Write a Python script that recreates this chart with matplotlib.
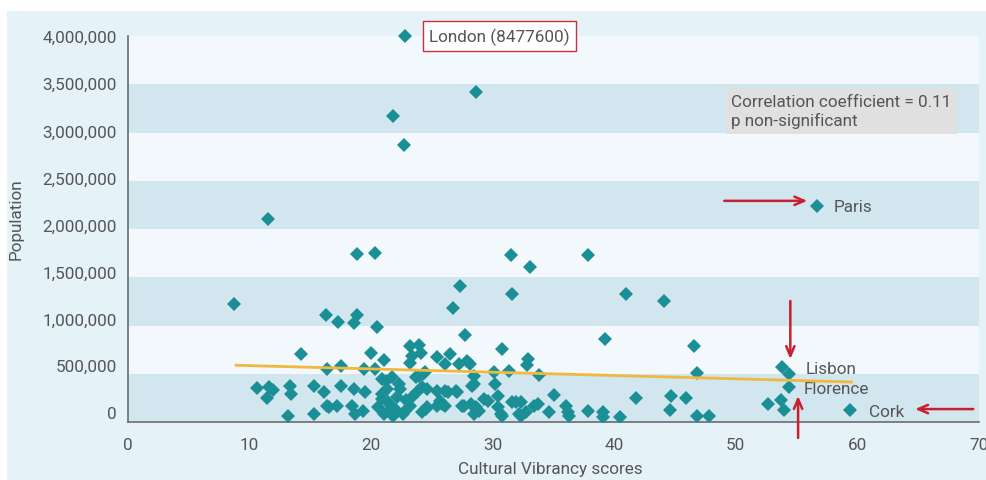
import numpy as np
import matplotlib.pyplot as plt
from matplotlib.patches import Rectangle
from matplotlib.ticker import FuncFormatter
from matplotlib.transforms import ScaledTranslation

plt.rcParams['font.family'] = ['Roboto', 'DejaVu Sans']

# Cultural Vibrancy score / population
score = [28.6, 21.8, 22.7, 11.5, 18.8, 20.3, 31.5, 33.1, 37.8, 8.7,
         27.3, 31.6, 41.0, 44.1, 16.3, 17.3, 18.8, 18.6, 20.5, 26.7,
         27.7, 14.2, 39.2, 46.55, 20.0, 21.05, 23.2, 23.9, 23.4, 24.1,
         23.2, 30.75, 25.4, 26.5, 26.1, 27.2, 28.1, 30.1, 31.35, 32.9,
         32.8, 33.8, 46.8, 16.4, 17.5, 19.4, 20.3, 23.9, 24.4, 24.3,
         28.5, 53.8, 27.9,
         10.6, 11.57, 11.93, 11.43, 13.36, 13.41, 13.2, 15.33, 16.1, 15.33,
         16.4, 17.5, 18.6, 19.5, 16.5, 17.2, 18.4, 18.7, 19.3, 20.9,
         21.7, 21.3, 20.9, 21.6, 21.05, 22.4, 22.6, 23.2, 23.8, 24.2,
         24.6, 26.3, 27.1, 28.3, 30.2, 31.9, 24.6, 25.4, 26.1, 27.5,
         28.2, 28.9, 29.6, 30.4, 30.8, 32.2, 28.5, 35.0, 32.3, 33.7,
         33.4, 32.7, 34.6, 36.0, 36.2, 36.3, 37.8, 39.05, 39.05, 40.5,
         41.8, 44.7, 45.9, 44.6, 46.8, 47.8, 52.65, 53.75, 53.95,
         23.7, 24.2, 23.4, 25.4, 25.7, 24.5, 22.8, 21.5, 20.9, 21.2,
         22.3, 22.15, 20.6, 26.1, 27.0, 28.5, 27.6, 28.6, 29.3, 30.4,
         31.6, 32.3, 30.7, 25.85, 22.0, 21.8, 22.9, 21.4]
population = [3420000, 3170000, 2870000, 2100000, 1740000, 1750000, 1730000, 1610000, 1730000, 1220000,
              1410000, 1330000, 1330000, 1250000, 1110000, 1040000, 1110000, 1030000, 980000, 1180000,
              900000, 700000, 860000, 790000, 720000, 640000, 790000, 800000, 680000, 715000,
              610000, 760000, 670000, 700000, 600000, 600000, 600000, 520000, 530000, 650000,
              590000, 490000, 510000, 550000, 580000, 550000, 550000, 480000, 520000, 500000,
              480000, 567000, 635000,
              349000, 360000, 332000, 246000, 370000, 287000, 65000, 370000, 308000, 83000,
              169000, 376000, 342000, 308000, 152000, 163000, 169000, 83000, 117000, 446000,
              463000, 342000, 238000, 169000, 83000, 342000, 83000, 169000, 308000, 100000,
              342000, 308000, 308000, 376000, 394000, 204000, 152000, 169000, 169000, 169000,
              187000, 117000, 221000, 152000, 65000, 83000, 83000, 280000, 204000, 187000,
              169000, 100000, 100000, 169000, 100000, 65000, 117000, 100000, 49000, 49000,
              246000, 266000, 246000, 124000, 65000, 65000, 187000, 231000, 127000,
              467000, 360000, 256000, 324000, 221000, 135000, 117000, 117000, 290000, 428000,
              394000, 256000, 152000, 324000, 324000, 394000, 169000, 152000, 238000, 273000,
              204000, 65000, 83000, 187000, 130000, 60000, 230000, 210000]

# highlighted cities
city_names = ['London', 'Paris', 'Lisbon', 'Florence', 'Cork']
city_score = [22.8, 56.7, 54.4, 54.4, 59.4]
city_population = [8477600, 2240000, 497000, 360000, 124000]

# fitted trend line end points
trend_score = [8.9, 59.5]
trend_population = [588000, 415000]

y_max = 4000000
teal = '#1b8f96'
red = '#c8202f'
grey = '#555555'

fig = plt.figure(figsize=(9.87, 4.81), dpi=100, facecolor='white')
fig.patches.append(Rectangle((7 / 987, 0), 1, 1 - 12 / 481, transform=fig.transFigure,
                             facecolor='#e5f2f7', edgecolor='none', zorder=-10))
ax = fig.add_axes([128 / 987, 1 - 423 / 481, (979 - 128) / 987, (423 - 37) / 481])
ax.set_facecolor('#f2f8fb')

for lo in range(0, y_max, 1000000):
    ax.axhspan(lo, lo + 500000, color='#d1e6ee', zorder=0, lw=0)

ax.plot(score, population, 'D', color=teal, ms=7.6, mew=0, zorder=3)
city_plot_y = [min(p, y_max) for p in city_population]
ax.plot(city_score, city_plot_y, 'D', color=teal, ms=7.6, mew=0, zorder=3, clip_on=False)
ax.plot(trend_score, trend_population, color='#f0b93e', lw=2, zorder=4)

ax.set_xlim(0, 70)
ax.set_ylim(0, y_max)
ax.set_xticks(range(0, 71, 10))
ax.set_yticks(range(0, y_max + 1, 500000))
ax.yaxis.set_major_formatter(FuncFormatter(lambda v, p: f'{int(v):,}'))
ax.tick_params(length=0, labelsize=12.3, colors=grey)
ax.tick_params(axis='y', pad=8)
ax.tick_params(axis='x', pad=11)
for s in ['top', 'right']:
    ax.spines[s].set_visible(False)
for s in ['left', 'bottom']:
    ax.spines[s].set_color('#6b6b6b')
    ax.spines[s].set_linewidth(1.2)

# y labels in the original sit a little above their gridlines (more so lower down)
label_lift = [10, 9, 7, 5, 4, 3, 2, 1, 0]
for tick, lift in zip(ax.yaxis.get_major_ticks(), label_lift):
    tick.label1.set_transform(tick.label1.get_transform() +
                              ScaledTranslation(0, lift / 100, fig.dpi_scale_trans))

fig.text(550 / 987, 1 - 470 / 481, 'Cultural Vibrancy scores', ha='center', va='center',
         fontsize=12.3, color=grey)
fig.text(16 / 987, 1 - 219 / 481, 'Population', ha='center', va='center', rotation=90,
         fontsize=12.3, color=grey)

pts = dict(zip(city_names, zip(city_score, city_plot_y)))

ax.annotate(f'London ({city_population[0]})', pts['London'], xytext=(17.3, 0),
            textcoords='offset points', va='center', ha='left', fontsize=12.3, color=grey,
            bbox=dict(boxstyle='square,pad=0.35', fc='white', ec='#c8303c', lw=1),
            annotation_clip=False)
ax.annotate('Paris', pts['Paris'], xytext=(11.5, -0.7), textcoords='offset points',
            va='center', fontsize=12.3, color=grey)
ax.annotate('Lisbon', pts['Lisbon'], xytext=(11.5, 4.3), textcoords='offset points',
            va='center', fontsize=12.3, color=grey)
ax.annotate('Florence', pts['Florence'], xytext=(10.6, -1.2), textcoords='offset points',
            va='center', fontsize=12.3, color=grey)
ax.annotate('Cork', pts['Cork'], xytext=(13.7, -0.7), textcoords='offset points',
            va='center', fontsize=12.3, color=grey)

arrow = dict(arrowstyle='->,head_length=0.7,head_width=0.3', color=red, lw=1.8,
             shrinkA=0, shrinkB=0)
# (tail offset, head offset) in points from the city marker
arrow_offsets = {
    'Paris': ((-67, 3.6), (-7.2, 3.6)),
    'Lisbon': ((0.7, 52.6), (0.7, 10.8)),
    'Florence': ((6.3, -36.5), (6.3, -6.3)),
    'Cork': ((88.6, 0.7), (46.8, 0.7)),
}
k = fig.dpi / 72
for name, (tail, head) in arrow_offsets.items():
    hx, hy = ax.transData.transform(pts[name])
    ax.annotate('', xy=(hx + head[0] * k, hy + head[1] * k), xycoords='figure pixels',
                xytext=(hx + tail[0] * k, hy + tail[1] * k), textcoords='figure pixels',
                arrowprops=arrow, annotation_clip=False)

fig.text(731 / 987, 1 - 112 / 481, 'Correlation coefficient = 0.11\np non-significant',
         ha='left', va='center', fontsize=12.3, color=grey, linespacing=1.3,
         bbox=dict(boxstyle='square,pad=0.3', fc='#e0e0e0', ec='none'))

fig.savefig('out.png', dpi=100, facecolor=fig.get_facecolor())
